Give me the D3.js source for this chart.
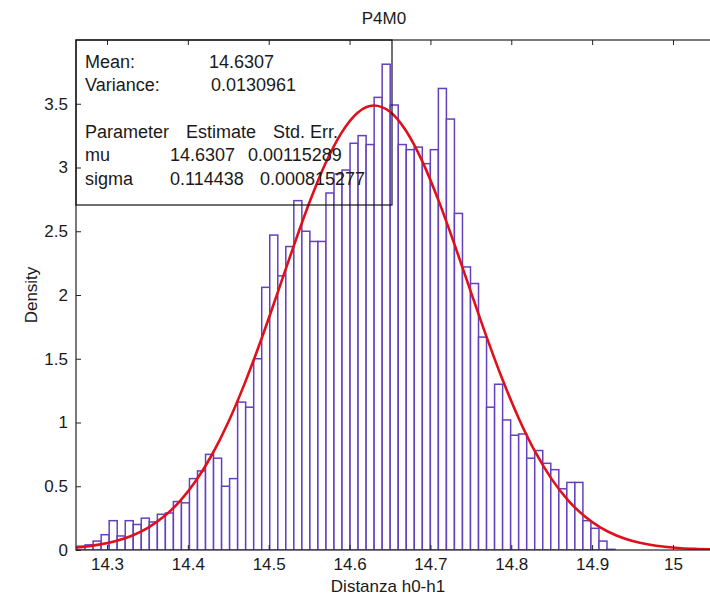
<!DOCTYPE html>
<html>
<head>
<meta charset="utf-8">
<script src="https://cdn.jsdelivr.net/npm/d3@7"></script>
<style>
  body { margin: 0; background: #fff; }
  text { font-family: "Liberation Sans", Arial, sans-serif; fill: #1a1a1a; }
</style>
</head>
<body>
<svg id="chart" width="710" height="604"></svg>
<script>
// histogram bins (density)
const binStart = 14.263;
const binWidth = 0.00993;
const densities = [
  0.03, 0.04, 0.07, 0.12, 0.23, 0.11, 0.23, 0.20, 0.25, 0.22,
  0.28, 0.29, 0.38, 0.37, 0.56, 0.62, 0.75, 0.72, 0.50, 0.56,
  1.16, 1.12, 1.50, 2.06, 2.47, 2.15, 2.38, 2.74, 2.50, 2.42,
  2.42, 2.80, 2.95, 2.98, 3.19, 3.25, 3.18, 3.55, 3.81, 3.49,
  3.18, 3.14, 3.16, 3.03, 3.14, 3.62, 3.38, 2.64, 2.22, 2.09,
  1.67, 1.12, 1.30, 1.02, 0.90, 0.91, 0.72, 0.78, 0.68, 0.63,
  0.48, 0.53, 0.53, 0.23, 0.17, 0.07, 0.005, 0, 0, 0,
  0, 0, 0, 0, 0, 0, 0, 0, 0, 0, 0, 0
];

// fitted normal curve, sampled
const fitX = [14.25, 14.27, 14.29, 14.31, 14.33, 14.35, 14.37, 14.39, 14.41, 14.43,
  14.45, 14.47, 14.49, 14.51, 14.53, 14.55, 14.57, 14.59, 14.61, 14.63,
  14.65, 14.67, 14.69, 14.71, 14.73, 14.75, 14.77, 14.79, 14.81, 14.83,
  14.85, 14.87, 14.89, 14.91, 14.93, 14.95, 14.97, 14.99, 15.01, 15.03,
  15.05, 15.07];
const fitY = [0.014, 0.024, 0.042, 0.069, 0.110, 0.172, 0.260, 0.382, 0.543, 0.749,
  1.002, 1.301, 1.637, 1.999, 2.367, 2.719, 3.029, 3.272, 3.430, 3.486,
  3.437, 3.286, 3.048, 2.742, 2.393, 2.025, 1.662, 1.323, 1.022, 0.765,
  0.556, 0.392, 0.268, 0.177, 0.114, 0.071, 0.043, 0.025, 0.014, 0.008,
  0.004, 0.002];

const xTicks = [14.3, 14.4, 14.5, 14.6, 14.7, 14.8, 14.9, 15];
const yTicks = [0, 0.5, 1, 1.5, 2, 2.5, 3, 3.5];

const statLabels = ["Mean:", "Variance:"];
const statValues = ["14.6307", "0.0130961"];
const paramHeader = ["Parameter", "Estimate", "Std. Err."];
const paramNames = ["mu", "sigma"];
const paramEstimates = ["14.6307", "0.114438"];
const paramStdErr = ["0.00115289", "0.000815277"];

const svg = d3.select("#chart");
const plotLeft = 76, plotTop = 40, plotBottom = 550;
const axisFont = 17, boxFont = 18;

const x = d3.scaleLinear().domain([14.2617, 15.07]).range([plotLeft, plotLeft + 0.8083 * 808.6]);
const y = d3.scaleLinear().domain([0, 4]).range([plotBottom, plotTop]);
const plotRight = x.range()[1];

svg.append("defs").append("clipPath").attr("id", "plotclip")
  .append("rect").attr("x", plotLeft).attr("y", plotTop)
  .attr("width", plotRight - plotLeft).attr("height", plotBottom - plotTop);

const plot = svg.append("g").attr("clip-path", "url(#plotclip)");

// bars
plot.selectAll("rect.bar")
  .data(densities)
  .join("rect")
  .attr("class", "bar")
  .attr("x", (d, i) => x(binStart + i * binWidth))
  .attr("width", (d, i) => x(binStart + (i + 1) * binWidth) - x(binStart + i * binWidth))
  .attr("y", d => y(d))
  .attr("height", d => y(0) - y(d))
  .attr("fill", "#fff")
  .attr("stroke", "#6440c0")
  .attr("stroke-width", 1.5);

// fit line
const line = d3.line()
  .x((d, i) => x(fitX[i]))
  .y(d => y(d))
  .curve(d3.curveMonotoneX);

plot.append("path")
  .datum(fitY)
  .attr("d", line)
  .attr("fill", "none")
  .attr("stroke", "#e0101a")
  .attr("stroke-width", 2.6);

// axes (ticks pointing inward, box on)
const xAxisB = d3.axisBottom(x).tickValues(xTicks).tickSize(-5).tickPadding(8).tickFormat(d3.format("~g"));
const xAxisT = d3.axisTop(x).tickValues(xTicks).tickSize(-5).tickFormat("");
const yAxisL = d3.axisLeft(y).tickValues(yTicks).tickSize(-5).tickPadding(8).tickFormat(d3.format("~g"));

function styleAxis(g) {
  g.select(".domain").remove();
  g.selectAll(".tick line").attr("stroke", "#222");
  g.selectAll(".tick text").attr("font-size", axisFont).attr("fill", "#222")
    .attr("font-family", "Liberation Sans, Arial, sans-serif");
}

svg.append("g").attr("transform", `translate(0,${plotBottom})`).call(xAxisB).call(styleAxis);
svg.append("g").attr("transform", `translate(0,${plotTop})`).call(xAxisT).call(styleAxis);
svg.append("g").attr("transform", `translate(${plotLeft},0)`).call(yAxisL).call(styleAxis);

// axes frame
svg.append("rect")
  .attr("x", plotLeft).attr("y", plotTop)
  .attr("width", plotRight - plotLeft).attr("height", plotBottom - plotTop)
  .attr("fill", "none").attr("stroke", "#222").attr("stroke-width", 1.2);

// title & labels
svg.append("text").attr("x", 384).attr("y", 24).attr("text-anchor", "middle")
  .attr("font-size", axisFont).text("P4M0");
svg.append("text").attr("x", 388).attr("y", 592).attr("text-anchor", "middle")
  .attr("font-size", axisFont).text("Distanza h0-h1");
svg.append("text").attr("transform", "translate(37,295) rotate(-90)")
  .attr("text-anchor", "middle").attr("font-size", axisFont).text("Density");

// stats box
const box = svg.append("g");
box.append("rect")
  .attr("x", plotLeft).attr("y", plotTop).attr("width", 392 - plotLeft).attr("height", 205 - plotTop)
  .attr("fill", "none").attr("stroke", "#111").attr("stroke-width", 1.2);

const lineY = k => 68 + k * 23.3;
statLabels.forEach((s, i) => {
  box.append("text").attr("x", 85).attr("y", lineY(i)).attr("font-size", boxFont).text(s);
  box.append("text").attr("x", i === 0 ? 209 : 211).attr("y", lineY(i)).attr("font-size", boxFont).text(statValues[i]);
});
const headX = [85, 186, 273];
paramHeader.forEach((s, i) => {
  box.append("text").attr("x", headX[i]).attr("y", lineY(3)).attr("font-size", boxFont).text(s);
});
const estX = [170, 170], errX = [248, 260];
paramNames.forEach((s, i) => {
  const yy = lineY(4 + i);
  box.append("text").attr("x", 85).attr("y", yy).attr("font-size", boxFont).text(s);
  box.append("text").attr("x", estX[i]).attr("y", yy).attr("font-size", boxFont).text(paramEstimates[i]);
  box.append("text").attr("x", errX[i]).attr("y", yy).attr("font-size", boxFont).text(paramStdErr[i]);
});
</script>
</body>
</html>
